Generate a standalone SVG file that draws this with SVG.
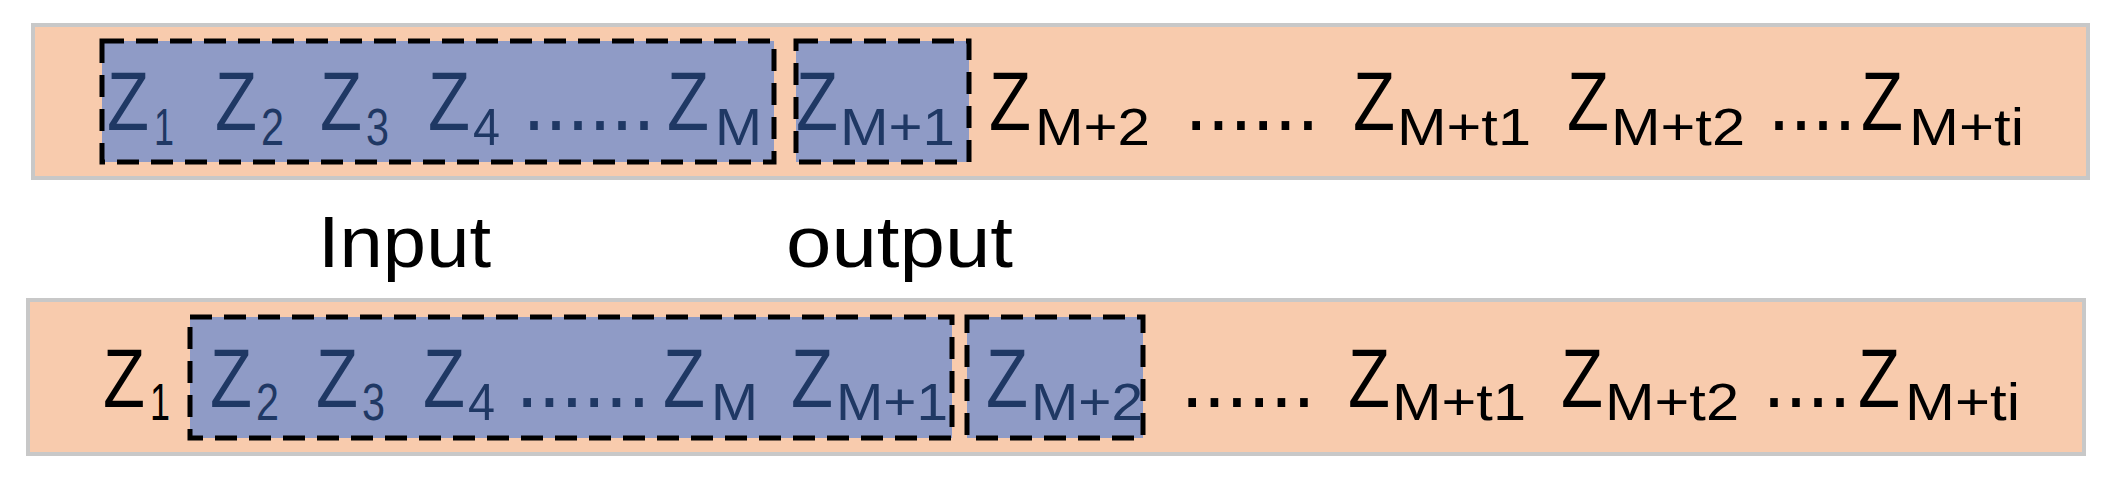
<svg xmlns="http://www.w3.org/2000/svg" width="2124" height="484" viewBox="0 0 2124 484">
<style>
.band{fill:#F8CBAD;stroke:#C8C8C8;stroke-width:4}
.win{fill:#8F9BC6;stroke:#000;stroke-width:5;stroke-dasharray:22 12}
text{font-family:"Liberation Sans",Arial,sans-serif}
.z{font-size:84px}
.s{font-size:52px}
.b{fill:#1F3864}
.k{fill:#000}
.lab{font-size:72px;fill:#000}
</style>
<g id="band-top"><rect class="band" x="33" y="25" width="2055" height="153"/></g>
<g id="band-bottom"><rect class="band" x="28" y="300" width="2056" height="154"/></g>
<g id="win-top-input"><rect class="win" x="102" y="41" width="672" height="121"/></g>
<g id="win-top-output"><rect class="win" x="796" y="41" width="173" height="121"/></g>
<g id="win-bottom-input"><rect class="win" x="190" y="317" width="762" height="121"/></g>
<g id="win-bottom-output"><rect class="win" x="967" y="317" width="176" height="121"/></g>
<g id="seq-top" lengthAdjust="spacingAndGlyphs">
<g class="b">
<text class="z" x="107" y="130" textLength="42" lengthAdjust="spacingAndGlyphs">Z</text><text class="s" x="154" y="145" textLength="20" lengthAdjust="spacingAndGlyphs">1</text>
<text class="z" x="215" y="130" textLength="42" lengthAdjust="spacingAndGlyphs">Z</text><text class="s" x="261" y="145" textLength="23" lengthAdjust="spacingAndGlyphs">2</text>
<text class="z" x="320" y="130" textLength="42" lengthAdjust="spacingAndGlyphs">Z</text><text class="s" x="366" y="145" textLength="23" lengthAdjust="spacingAndGlyphs">3</text>
<text class="z" x="428" y="130" textLength="42" lengthAdjust="spacingAndGlyphs">Z</text><text class="s" x="473" y="145" textLength="27" lengthAdjust="spacingAndGlyphs">4</text>
<text class="z" x="523" y="130" textLength="132" lengthAdjust="spacingAndGlyphs">......</text>
<text class="z" x="667" y="130" textLength="42" lengthAdjust="spacingAndGlyphs">Z</text><text class="s" x="715" y="145" textLength="47" lengthAdjust="spacingAndGlyphs">M</text>
<text class="z" x="796" y="130" textLength="42" lengthAdjust="spacingAndGlyphs">Z</text><text class="s" x="840" y="145" textLength="115" lengthAdjust="spacingAndGlyphs">M+1</text>
</g>
<g class="k">
<text class="z" x="989" y="130" textLength="42" lengthAdjust="spacingAndGlyphs">Z</text><text class="s" x="1035" y="145" textLength="115" lengthAdjust="spacingAndGlyphs">M+2</text>
<text class="z" x="1185" y="130" textLength="134" lengthAdjust="spacingAndGlyphs">......</text>
<text class="z" x="1353" y="130" textLength="42" lengthAdjust="spacingAndGlyphs">Z</text><text class="s" x="1397" y="145" textLength="134" lengthAdjust="spacingAndGlyphs">M+t1</text>
<text class="z" x="1567" y="130" textLength="42" lengthAdjust="spacingAndGlyphs">Z</text><text class="s" x="1611" y="145" textLength="134" lengthAdjust="spacingAndGlyphs">M+t2</text>
<text class="z" x="1768" y="130" textLength="88" lengthAdjust="spacingAndGlyphs">....</text>
<text class="z" x="1861" y="130" textLength="42" lengthAdjust="spacingAndGlyphs">Z</text><text class="s" x="1909" y="145" textLength="115" lengthAdjust="spacingAndGlyphs">M+ti</text>
</g>
</g>
<g id="labels">
<text class="lab" x="318" y="267" textLength="173" lengthAdjust="spacingAndGlyphs">Input</text>
<text class="lab" x="786" y="267" textLength="227" lengthAdjust="spacingAndGlyphs">output</text>
</g>
<g id="seq-bottom">
<g class="k">
<text class="z" x="103" y="407" textLength="42" lengthAdjust="spacingAndGlyphs">Z</text><text class="s" x="150" y="420" textLength="20" lengthAdjust="spacingAndGlyphs">1</text>
</g>
<g class="b">
<text class="z" x="210" y="407" textLength="42" lengthAdjust="spacingAndGlyphs">Z</text><text class="s" x="256" y="420" textLength="23" lengthAdjust="spacingAndGlyphs">2</text>
<text class="z" x="316" y="407" textLength="42" lengthAdjust="spacingAndGlyphs">Z</text><text class="s" x="362" y="420" textLength="23" lengthAdjust="spacingAndGlyphs">3</text>
<text class="z" x="423" y="407" textLength="42" lengthAdjust="spacingAndGlyphs">Z</text><text class="s" x="468" y="420" textLength="27" lengthAdjust="spacingAndGlyphs">4</text>
<text class="z" x="516" y="407" textLength="134" lengthAdjust="spacingAndGlyphs">......</text>
<text class="z" x="663" y="407" textLength="42" lengthAdjust="spacingAndGlyphs">Z</text><text class="s" x="711" y="420" textLength="47" lengthAdjust="spacingAndGlyphs">M</text>
<text class="z" x="791" y="407" textLength="42" lengthAdjust="spacingAndGlyphs">Z</text><text class="s" x="836" y="420" textLength="112" lengthAdjust="spacingAndGlyphs">M+1</text>
<text class="z" x="986" y="407" textLength="42" lengthAdjust="spacingAndGlyphs">Z</text><text class="s" x="1031" y="420" textLength="112" lengthAdjust="spacingAndGlyphs">M+2</text>
</g>
<g class="k">
<text class="z" x="1181" y="407" textLength="134" lengthAdjust="spacingAndGlyphs">......</text>
<text class="z" x="1348" y="407" textLength="42" lengthAdjust="spacingAndGlyphs">Z</text><text class="s" x="1392" y="420" textLength="134" lengthAdjust="spacingAndGlyphs">M+t1</text>
<text class="z" x="1561" y="407" textLength="42" lengthAdjust="spacingAndGlyphs">Z</text><text class="s" x="1605" y="420" textLength="134" lengthAdjust="spacingAndGlyphs">M+t2</text>
<text class="z" x="1763" y="407" textLength="88" lengthAdjust="spacingAndGlyphs">....</text>
<text class="z" x="1858" y="407" textLength="42" lengthAdjust="spacingAndGlyphs">Z</text><text class="s" x="1905" y="420" textLength="115" lengthAdjust="spacingAndGlyphs">M+ti</text>
</g>
</g>
<g id="connectors"/>
</svg>
